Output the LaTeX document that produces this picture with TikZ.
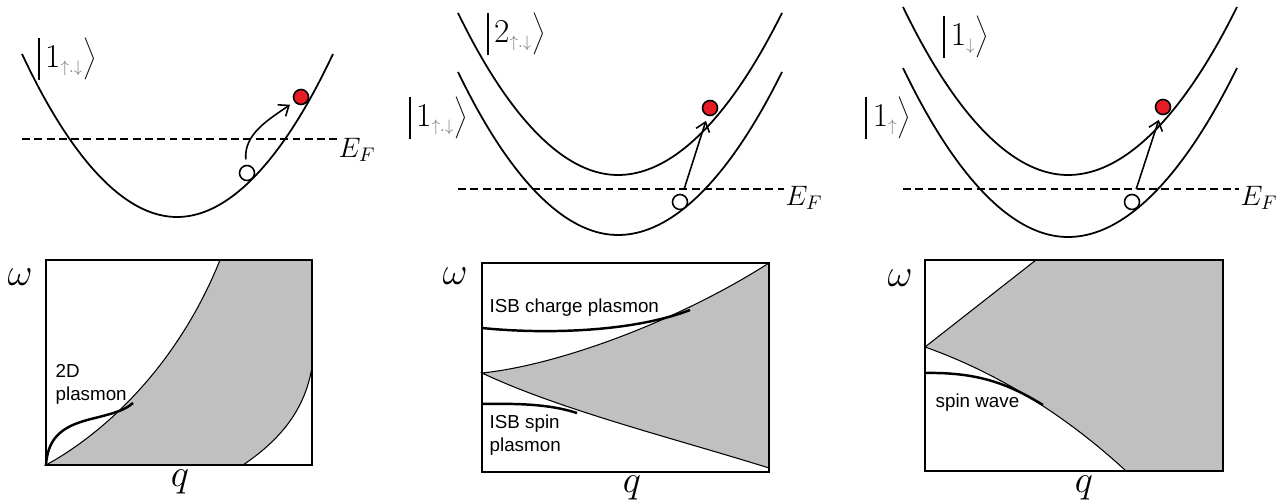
\RequirePackage{fix-cm}
\documentclass[tikz,border=0pt]{standalone}
\usepackage{fontspec}
\usetikzlibrary{arrows.meta}
\newfontfamily\labelfont{Liberation Sans}
\definecolor{bandgray}{RGB}{192,192,192}
\definecolor{elecred}{RGB}{232,28,36}

\tikzset{every picture/.style={line width=0.75pt}}
\tikzset{
  band/.style={line width=1pt},
  fermi/.style={line width=0.9pt, dash pattern={on 4.5pt off 2.5pt}},
  elec/.style={circle, draw, line width=0.9pt, fill=elecred, minimum size=0.3cm, inner sep=0pt},
  hole/.style={circle, draw, line width=0.9pt, fill=white, minimum size=0.3cm, inner sep=0pt},
  excite/.style={line width=0.9pt, -{Straight Barb[length=5pt,width=8pt]}, shorten <=3pt, shorten >=3pt},
  frame/.style={line width=0.9pt},
  region/.style={fill=bandgray, line width=0.6pt},
  mode/.style={line width=1.4pt},
  modelabel/.style={font=\labelfont\fontsize{10.7}{13}\selectfont, inner sep=0pt, anchor=west, align=left},
  ket/.style={font=\fontsize{19}{22}\selectfont, inner sep=0pt},
  axislabel/.style={font=\fontsize{22}{24}\selectfont, inner sep=0pt},
  fermilabel/.style={font=\fontsize{16}{18}\selectfont, inner sep=0pt, anchor=west}
}
\newcommand{\spinket}[2]{$\vcenter{\hbox{\vrule width 1.2pt height 24pt}}\mkern3mu#1_{\scriptscriptstyle\color{gray}#2}\Bigg\rangle$}

\begin{document}
\begin{tikzpicture}[x=0.02cm, y=-0.02cm]
    \useasboundingbox (0,0) rectangle (1276,503);
    % one subband
    \draw[band] (22,54) parabola bend (177,217) (333,54);
    \draw[fermi] (22,139) -- (338,139);
    \node[fermilabel] (EF1) at (338,150) {$E_F$};
    \node[ket] (ket1) at (67,58) {\spinket{1}{\uparrow.\downarrow}};
    \node[elec] (e1) at (301,97) {};
    \node[hole] (h1) at (247,173) {};
    \draw[excite] (h1) to[out=95, in=215] (e1);
    % two subbands
    \draw[band] (458,13) parabola bend (618,175) (782,13);
    \draw[band] (458,72) parabola bend (618,235) (782,72);
    \draw[fermi] (458,189) -- (784,189);
    \node[fermilabel] (EF2) at (785,198) {$E_F$};
    \node[ket] (ket2) at (516,33) {\spinket{2}{\uparrow.\downarrow}};
    \node[ket] (ket3) at (438,117) {\spinket{1}{\uparrow.\downarrow}};
    \node[elec] (e2) at (710,108) {};
    \node[hole] (h2) at (680,202) {};
    \draw[excite] (h2) -- (e2);
    % spin split subbands
    \draw[band] (903,7) parabola bend (1068,175) (1237,7);
    \draw[band] (903,68) parabola bend (1068,237) (1237,68);
    \draw[fermi] (903,189) -- (1239,189);
    \node[fermilabel] (EF3) at (1240,198) {$E_F$};
    \node[ket] (ket4) at (966,36) {\spinket{1}{\downarrow}};
    \node[ket] (ket5) at (888,117) {\spinket{1}{\uparrow}};
    \node[elec] (e3) at (1163,107) {};
    \node[hole] (h3) at (1132,202) {};
    \draw[excite] (h3) -- (e3);

    % spectra
    \draw[region] (46,465) .. controls (110,430) and (180,360) .. (220,260) -- (312,260) -- (312,367) .. controls (305,410) and (280,440) .. (243,465) -- cycle;
    \draw[frame] (46,260) rectangle (312,465);
    \draw[mode] (46,465) .. controls (48,435) and (65,425) .. (95,418) .. controls (115,413) and (125,410) .. (133,403);
    \node[modelabel] (pl1) at (55,384) {2D\\plasmon};
    \node[axislabel] (w1) at (20,277) {$\omega$};
    \node[axislabel] (q1) at (180,482) {$q$};

    \draw[region] (482,373) .. controls (560,365) and (680,320) .. (769,263) -- (769,468) .. controls (680,440) and (560,410) .. (482,373) -- cycle;
    \draw[frame] (482,263) rectangle (769,472);
    \draw[mode] (482,328) .. controls (540,334) and (630,333) .. (690,310);
    \draw[mode] (482,404) .. controls (530,403) and (555,406) .. (577,413);
    \node[modelabel] (pl2) at (489,308) {ISB charge plasmon};
    \node[modelabel] (pl3) at (489,435) {ISB spin\\plasmon};
    \node[axislabel] (w2) at (455,276) {$\omega$};
    \node[axislabel] (q2) at (632,488) {$q$};

    \draw[region] (925,347) -- (1036,260) -- (1223,260) -- (1223,471) -- (1126,471) .. controls (1060,410) and (990,370) .. (925,347) -- cycle;
    \draw[frame] (925,260) rectangle (1223,471);
    \draw[line width=1.6pt] (1036,260) -- (1223,260) -- (1223,471);
    \draw[mode] (925,373) .. controls (980,372) and (1010,385) .. (1043,405);
    \node[modelabel] (pl4) at (935,403) {spin wave};
    \node[axislabel] (w3) at (900,278) {$\omega$};
    \node[axislabel] (q3) at (1084,488) {$q$};
\end{tikzpicture}
\end{document}
